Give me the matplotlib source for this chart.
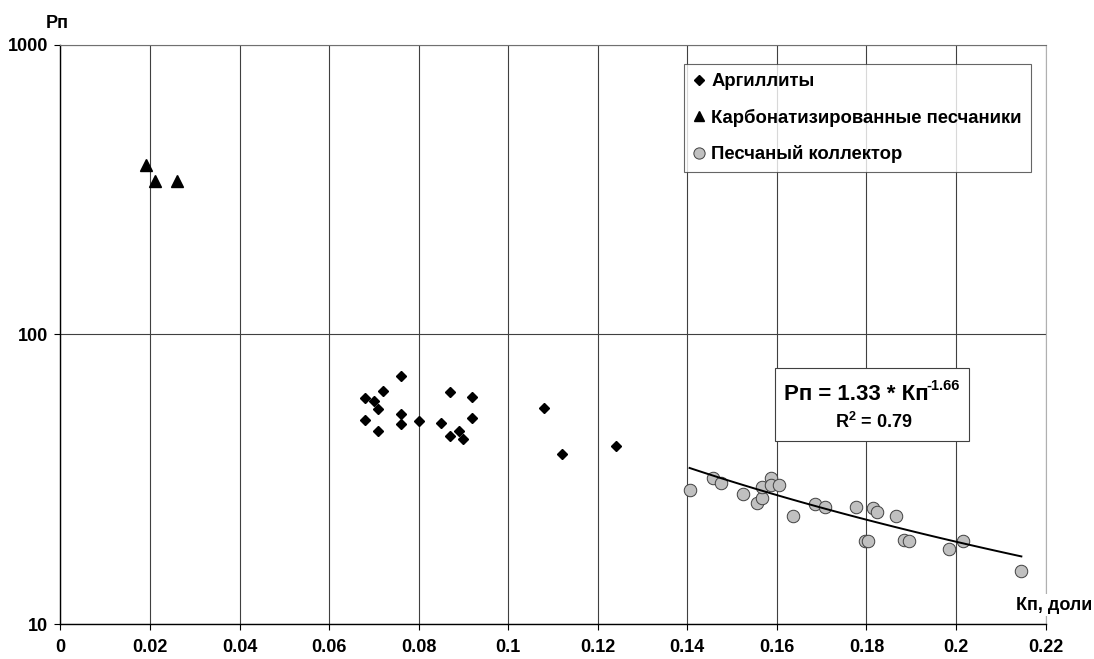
import numpy as np
import matplotlib
matplotlib.use("Agg")
import matplotlib.pyplot as plt
from matplotlib.patches import Rectangle

plt.rcParams['font.family'] = ['Liberation Sans', 'DejaVu Sans']
plt.rcParams['font.weight'] = 'bold'
plt.rcParams['mathtext.fontset'] = 'custom'
plt.rcParams['mathtext.rm'] = 'Liberation Sans:bold'
plt.rcParams['mathtext.it'] = 'Liberation Sans:bold'
plt.rcParams['mathtext.bf'] = 'Liberation Sans:bold'
plt.rcParams['mathtext.default'] = 'rm'

# ---- data ----
arg_kp = [0.076, 0.072, 0.068, 0.070, 0.071, 0.076, 0.068, 0.076, 0.080, 0.071,
          0.087, 0.092, 0.092, 0.085, 0.087, 0.089, 0.090, 0.108, 0.112, 0.124]
arg_rp = [71.6, 63.5, 60.2, 59.1, 55.3, 53.2, 50.7, 49.1, 50.3, 46.4,
          63.1, 61.0, 51.3, 49.3, 44.7, 46.4, 43.6, 55.8, 38.5, 41.2]

carb_kp = [0.019, 0.021, 0.026]
carb_rp = [385, 338, 338]

sand_kp = [0.1405, 0.1457, 0.1476, 0.1525, 0.1555, 0.1567, 0.1567, 0.1587, 0.1587,
           0.1605, 0.1635, 0.1685, 0.1707, 0.1776, 0.1797, 0.1804, 0.1815, 0.1824,
           0.1866, 0.1884, 0.1895, 0.1984, 0.2016, 0.2146]
sand_rp = [29.0, 31.8, 30.6, 28.2, 26.1, 27.3, 29.6, 31.8, 30.2, 30.2, 23.6, 26.0,
           25.4, 25.4, 19.4, 19.4, 25.2, 24.4, 23.6, 19.5, 19.4, 18.1, 19.4, 15.3]

fit_a = 1.33
fit_b = -1.66
fit_r2 = 0.79

labels = ['Аргиллиты', 'Карбонатизированные песчаники', 'Песчаный коллектор']
x_ticks = [0, 0.02, 0.04, 0.06, 0.08, 0.1, 0.12, 0.14, 0.16, 0.18, 0.2, 0.22]
x_ticklabels = ['0', '0.02', '0.04', '0.06', '0.08', '0.1', '0.12', '0.14',
                '0.16', '0.18', '0.2', '0.22']
y_ticks = [10, 100, 1000]
y_ticklabels = ['10', '100', '1000']

# ---- figure ----
W, H = 1094, 659
fig = plt.figure(figsize=(W / 100, H / 100), dpi=100)
ax = fig.add_axes([0.0553, 0.0531, 0.9004, 0.8791])
ax.set_yscale('log')
ax.set_xlim(0, 0.22)
ax.set_ylim(10, 1000)

ax.set_xticks(x_ticks)
ax.set_xticklabels(x_ticklabels)
ax.set_yticks(y_ticks)
ax.set_yticklabels(y_ticklabels)
ax.yaxis.set_minor_locator(matplotlib.ticker.NullLocator())
ax.tick_params(axis='both', labelsize=13, length=4, width=0.8, color='black')
ax.tick_params(axis='x', pad=7)
ax.tick_params(axis='y', pad=5)
for lab in ax.get_xticklabels() + ax.get_yticklabels():
    lab.set_fontweight('bold')

ax.grid(True, which='major', color='#404040', linewidth=0.8)
ax.set_axisbelow(True)
ax.spines['left'].set_color('black')
ax.spines['bottom'].set_color('black')
ax.spines['left'].set_linewidth(1.0)
ax.spines['bottom'].set_linewidth(1.0)
ax.spines['top'].set_color('#707070')
ax.spines['right'].set_color('#b0b0b0')
ax.spines['top'].set_linewidth(0.8)
ax.spines['right'].set_linewidth(0.8)

h1, = ax.plot(arg_kp, arg_rp, linestyle='none', marker='D', markersize=5.2,
              color='black', label=labels[0], zorder=4)
h2, = ax.plot(carb_kp, carb_rp, linestyle='none', marker='^', markersize=8,
              color='black', label=labels[1], zorder=4)
h3, = ax.plot(sand_kp, sand_rp, linestyle='none', marker='o', markersize=9,
              markerfacecolor='#c0c0c0', markeredgecolor='#404040',
              markeredgewidth=0.7, label=labels[2], zorder=4)

xf = np.linspace(min(sand_kp), max(sand_kp), 100)
ax.plot(xf, fit_a * xf ** fit_b, color='black', linewidth=1.4, zorder=5)

leg = ax.legend(handles=[h1, h2, h3], loc='upper left',
                bbox_to_anchor=(0.6325, 0.9667), borderaxespad=0,
                prop={'size': 13.3, 'weight': 'bold'}, frameon=True,
                fancybox=False, handlelength=0.7, handletextpad=0.3,
                labelspacing=1.0, borderpad=0.5, markerscale=0.9)
leg.get_frame().set_edgecolor('#404040')
leg.get_frame().set_linewidth(0.8)
leg.set_zorder(6)

# equation box
ax.add_patch(Rectangle((0.7254, 0.3159), 0.1972, 0.1255, transform=ax.transAxes,
                       facecolor='white', edgecolor='#404040', linewidth=0.8,
                       zorder=6))

main_txt = 'Рп = %.2f * Кп' % fit_a
sup_txt = '%.2f' % fit_b
tmain = fig.text(0, 0, main_txt, fontsize=16, fontweight='bold', ha='left',
                 va='baseline', zorder=7)
tsup = fig.text(0, 0, sup_txt, fontsize=10.5, fontweight='bold', ha='left',
                va='baseline', zorder=7)
fig.canvas.draw()
r = fig.canvas.get_renderer()
wm = tmain.get_window_extent(r).width
ws = tsup.get_window_extent(r).width
gap = -2.0
cx = 872.0
x0 = cx - (wm + ws + gap) / 2
base_main = 400.0
base_sup = 389.5
tmain.set_position((x0 / W, 1 - base_main / H))
tsup.set_position(((x0 + wm + gap) / W, 1 - base_sup / H))

ax.text(0.8254, 0.3487, 'R$^2$ = %.2f' % fit_r2, transform=ax.transAxes,
        ha='center', va='center', fontsize=13, fontweight='bold', zorder=7)

# axis titles
fig.text(57 / W, 1 - 23 / H, 'Рп', ha='center', va='center',
         fontsize=13, fontweight='bold')
ax.text(1054 / W, 1 - 605 / H, 'Кп, доли', transform=fig.transFigure,
        ha='center', va='center', fontsize=13, fontweight='bold', zorder=7,
        bbox=dict(facecolor='white', edgecolor='none', pad=1.5))

fig.savefig('out.png', dpi=100, facecolor='white')
